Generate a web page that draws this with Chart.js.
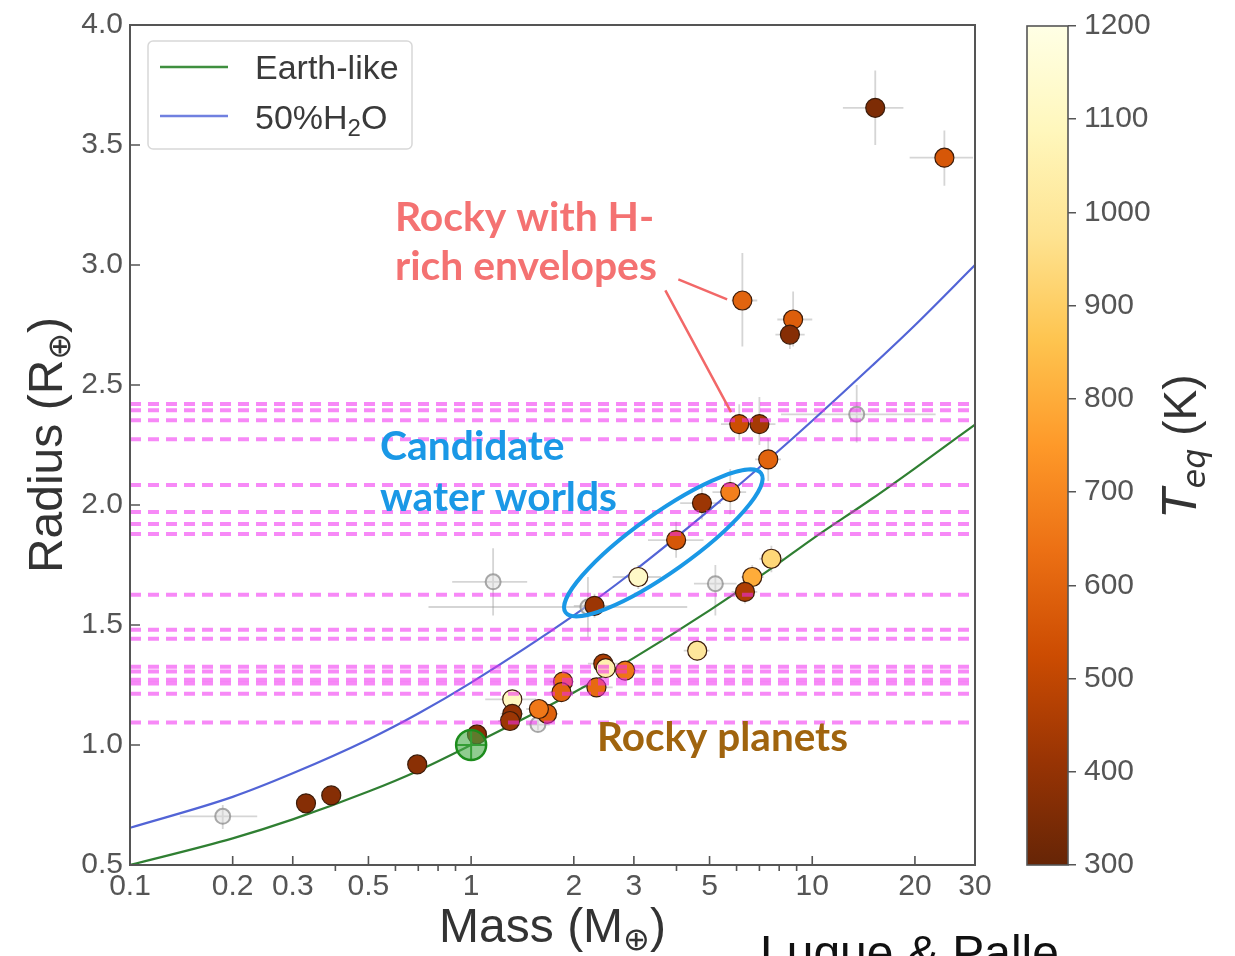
<!DOCTYPE html>
<html>
<head>
<meta charset="utf-8">
<script src="https://cdn.jsdelivr.net/npm/chart.js@4.4.1/dist/chart.umd.min.js"></script>
<style>
html, body { margin: 0; padding: 0; background: #fff; overflow: hidden; }
#wrap { position: relative; width: 1235px; height: 956px; }
#main { position: absolute; left: 0; top: 0; }
#cbar { position: absolute; left: 1000px; top: 0; }
</style>
</head>
<body>
<div id="wrap">
  <canvas id="main" width="1235" height="956"></canvas>
  <canvas id="cbar" width="235" height="956"></canvas>
</div>
<script>
// planets with a measured equilibrium temperature (coloured points)
const planetMass   = [15.3, 24.4, 6.24, 8.79, 8.6, 6.11, 7.0, 7.43, 5.75, 4.75, 3.99, 3.09, 2.30, 7.59, 6.67, 6.35, 4.60, 2.44, 2.48, 2.83, 2.33, 1.86, 1.84, 1.67, 1.58, 1.32, 1.32, 1.30, 1.04, 0.695, 0.389, 0.328];
const planetRadius = [3.655, 3.447, 2.852, 2.773, 2.71, 2.337, 2.337, 2.19, 2.054, 2.008, 1.854, 1.70, 1.58, 1.776, 1.70, 1.638, 1.393, 1.339, 1.32, 1.31, 1.24, 1.264, 1.22, 1.13, 1.15, 1.19, 1.13, 1.10, 1.044, 0.919, 0.79, 0.757];
const planetTeq    = [350, 560, 600, 580, 370, 530, 440, 600, 680, 420, 560, 1120, 420, 930, 800, 460, 1000, 450, 1050, 650, 620, 640, 600, 590, 660, 1100, 400, 420, 380, 380, 370, 370];
const massLo = [12.3, 19.3, 5.8, 7.9, 7.8, 5.4, 6.3, 6.8, 5.1, 4.1, 3.3, 2.6, 2.0, 7.0, 6.2, 5.8, 4.2, 2.2, 2.3, 2.6, 2.1, 1.7, 1.7, 1.55, 1.45, 1.1, 1.22, 1.2, 0.98, 0.66, 0.37, 0.31];
const massHi = [18.5, 29.6, 6.9, 10.0, 9.5, 6.9, 7.8, 8.1, 6.4, 5.4, 4.8, 3.6, 2.6, 8.2, 7.2, 6.9, 5.0, 2.7, 2.7, 3.1, 2.6, 2.0, 2.0, 1.8, 1.7, 1.55, 1.42, 1.4, 1.1, 0.73, 0.41, 0.345];
const radLo  = [3.50, 3.33, 2.66, 2.66, 2.65, 2.27, 2.25, 2.10, 1.96, 1.94, 1.78, 1.65, 1.53, 1.72, 1.65, 1.59, 1.35, 1.30, 1.29, 1.28, 1.21, 1.24, 1.19, 1.11, 1.13, 1.17, 1.11, 1.08, 1.03, 0.91, 0.78, 0.75];
const radHi  = [3.81, 3.56, 3.05, 2.89, 2.77, 2.42, 2.45, 2.28, 2.15, 2.08, 1.93, 1.75, 1.63, 1.83, 1.75, 1.69, 1.44, 1.38, 1.35, 1.34, 1.27, 1.29, 1.25, 1.15, 1.17, 1.21, 1.15, 1.12, 1.06, 0.93, 0.80, 0.765];

// planets without a temperature (grey open points)
const greyMass   = [0.187, 1.16, 2.2, 5.2, 13.5, 1.57];
const greyRadius = [0.703, 1.68, 1.575, 1.672, 2.378, 1.085];
const greyMassLo = [0.14, 0.88, 0.75, 4.5, 8.1, 1.45];
const greyMassHi = [0.236, 1.46, 4.3, 6.0, 23, 1.7];
const greyRadLo  = [0.65, 1.54, 1.45, 1.54, 2.26, 1.06];
const greyRadHi  = [0.75, 1.82, 1.70, 1.75, 2.50, 1.11];

// composition curves
const earthMass   = [0.1, 0.2, 0.3, 0.5, 0.7, 1, 2, 3, 5, 7.7, 10, 15, 20, 30];
const earthRadius = [0.50, 0.611, 0.690, 0.806, 0.893, 1.0, 1.219, 1.363, 1.561, 1.742, 1.858, 2.027, 2.153, 2.335];
const waterMass   = [0.1, 0.2, 0.3, 0.5, 0.7, 1, 2, 3, 5, 8, 10, 15, 20, 30];
const waterRadius = [0.655, 0.784, 0.882, 1.023, 1.131, 1.26, 1.54, 1.725, 1.98, 2.228, 2.351, 2.581, 2.749, 3.0];

// magenta dashed horizontal lines (radius values)
const dashRadius = [2.421, 2.395, 2.353, 2.274, 2.083, 1.971, 1.921, 1.879, 1.626, 1.480, 1.443, 1.326, 1.306, 1.272, 1.256, 1.214, 1.094];

const xTickVals  = [0.1, 0.2, 0.3, 0.5, 1, 2, 3, 5, 10, 20, 30];
const xMinorVals = [0.4, 0.6, 0.7, 0.8, 0.9, 4, 6, 7, 8, 9];
const yTickVals  = [0.5, 1.0, 1.5, 2.0, 2.5, 3.0, 3.5, 4.0];
const cbarTicks  = [300, 400, 500, 600, 700, 800, 900, 1000, 1100, 1200];
const teqMin = 300, teqMax = 1200;

// YlOrBr reversed
const cmapStops = ['#662506', '#993404', '#cc4c02', '#ec7014', '#fe9929', '#fec44f', '#fee391', '#fff7bc', '#ffffe5'];

function hexToRgb(h) {
  return [parseInt(h.slice(1, 3), 16), parseInt(h.slice(3, 5), 16), parseInt(h.slice(5, 7), 16)];
}
function teqColor(t) {
  let f = (t - teqMin) / (teqMax - teqMin);
  f = Math.max(0, Math.min(1, f)) * (cmapStops.length - 1);
  const i = Math.min(Math.floor(f), cmapStops.length - 2);
  const a = hexToRgb(cmapStops[i]), b = hexToRgb(cmapStops[i + 1]);
  const u = f - i;
  const c = a.map((v, k) => Math.round(v + (b[k] - v) * u));
  return `rgb(${c[0]},${c[1]},${c[2]})`;
}

const SANS = '"Liberation Sans", "DejaVu Sans", Arial, sans-serif';
const TICK_FONT = { family: SANS, size: 30 };

// draw a run of text pieces with different fonts / baseline shifts
function drawRuns(ctx, runs, x, y, align) {
  let total = 0;
  runs.forEach(r => { ctx.font = r.font; r.w = ctx.measureText(r.t).width; total += r.w; });
  let cx = align === 'center' ? x - total / 2 : x;
  ctx.textAlign = 'left';
  ctx.textBaseline = 'alphabetic';
  runs.forEach(r => { ctx.font = r.font; ctx.fillText(r.t, cx, y + (r.dy || 0)); cx += r.w; });
}

const errorBars = {
  id: 'errorBars',
  beforeDatasetsDraw(chart) {
    const { ctx, chartArea: a, scales: { x, y } } = chart;
    ctx.save();
    ctx.beginPath(); ctx.rect(a.left, a.top, a.width, a.height); ctx.clip();
    ctx.strokeStyle = 'rgba(150,150,150,0.4)';
    ctx.lineWidth = 1.8;
    const bar = (m, r, mlo, mhi, rlo, rhi) => {
      const px = x.getPixelForValue(m), py = y.getPixelForValue(r);
      ctx.beginPath();
      ctx.moveTo(x.getPixelForValue(mlo), py); ctx.lineTo(x.getPixelForValue(mhi), py);
      ctx.moveTo(px, y.getPixelForValue(rlo)); ctx.lineTo(px, y.getPixelForValue(rhi));
      ctx.stroke();
    };
    planetMass.forEach((m, i) => bar(m, planetRadius[i], massLo[i], massHi[i], radLo[i], radHi[i]));
    greyMass.forEach((m, i) => bar(m, greyRadius[i], greyMassLo[i], greyMassHi[i], greyRadLo[i], greyRadHi[i]));
    ctx.restore();
  }
};

const decorations = {
  id: 'decorations',
  afterDraw(chart) {
    const { ctx, chartArea: a, scales: { x, y } } = chart;
    ctx.save();

    // frame
    ctx.strokeStyle = '#555'; ctx.lineWidth = 2;
    ctx.strokeRect(a.left, a.top, a.width, a.height);

    // tick marks (major inward, minor outward)
    ctx.lineWidth = 1.6;
    ctx.beginPath();
    xTickVals.forEach(v => { const px = x.getPixelForValue(v); ctx.moveTo(px, a.bottom); ctx.lineTo(px, a.bottom - 9); });
    xMinorVals.forEach(v => { const px = x.getPixelForValue(v); ctx.moveTo(px, a.bottom); ctx.lineTo(px, a.bottom + 6); });
    yTickVals.forEach(v => { const py = y.getPixelForValue(v); ctx.moveTo(a.left, py); ctx.lineTo(a.left + 10, py); });
    ctx.stroke();

    // legend
    const lx = a.left + 18, ly = a.top + 16;
    ctx.fillStyle = 'rgba(255,255,255,0.9)';
    ctx.strokeStyle = '#d8d8d8'; ctx.lineWidth = 1.5;
    ctx.beginPath(); ctx.roundRect(lx, ly, 264, 108, 5); ctx.fill(); ctx.stroke();
    ctx.lineWidth = 2.4;
    ctx.strokeStyle = '#3f8f3f';
    ctx.beginPath(); ctx.moveTo(lx + 12, ly + 26); ctx.lineTo(lx + 80, ly + 26); ctx.stroke();
    ctx.strokeStyle = '#7080e0';
    ctx.beginPath(); ctx.moveTo(lx + 12, ly + 75); ctx.lineTo(lx + 80, ly + 75); ctx.stroke();
    ctx.fillStyle = '#3a3a3a';
    drawRuns(ctx, [{ t: 'Earth-like', font: `34px ${SANS}` }], lx + 107, ly + 38, 'left');
    drawRuns(ctx, [{ t: '50%H', font: `34px ${SANS}` }, { t: '2', font: `24px ${SANS}`, dy: 7 }, { t: 'O', font: `34px ${SANS}` }], lx + 107, ly + 88, 'left');

    // annotation text
    const anno = (lines, m, r, lineGap, width, color) => {
      ctx.fillStyle = color;
      let size = 40;
      ctx.font = `bold ${size}px Lato, "Open Sans", sans-serif`;
      const longest = lines.reduce((w, l) => Math.max(w, ctx.measureText(l).width), 0);
      size = size * width / longest;
      ctx.font = `bold ${size}px Lato, "Open Sans", sans-serif`;
      ctx.textAlign = 'left'; ctx.textBaseline = 'alphabetic';
      const px = x.getPixelForValue(m), py = y.getPixelForValue(r);
      lines.forEach((l, i) => ctx.fillText(l, px, py + i * lineGap));
    };
    anno(['Rocky with H-', 'rich envelopes'], 0.598, 3.143, 49, 262, '#f47272');
    anno(['Candidate', 'water worlds'], 0.541, 2.187, 51, 237, '#1a98e6');
    anno(['Rocky planets'], 2.34, 0.973, 0, 251, '#a0640e');

    // pointer lines to the H-rich planets
    ctx.strokeStyle = '#f26868'; ctx.lineWidth = 2.5;
    ctx.beginPath();
    ctx.moveTo(x.getPixelForValue(4.05), y.getPixelForValue(2.94)); ctx.lineTo(x.getPixelForValue(5.63), y.getPixelForValue(2.857));
    ctx.moveTo(x.getPixelForValue(3.71), y.getPixelForValue(2.894)); ctx.lineTo(x.getPixelForValue(5.78), y.getPixelForValue(2.387));
    ctx.stroke();

    // ellipse around candidate water worlds
    ctx.strokeStyle = '#1a98e6'; ctx.lineWidth = 4;
    ctx.beginPath();
    ctx.ellipse(x.getPixelForValue(3.66), y.getPixelForValue(1.842), 120, 29, -35.4 * Math.PI / 180, 0, 2 * Math.PI);
    ctx.stroke();

    // axis titles
    ctx.fillStyle = '#333';
    drawRuns(ctx, [{ t: 'Mass (M', font: `48px ${SANS}` }, { t: '⊕', font: `32px ${SANS}`, dy: 8 }, { t: ')', font: `48px ${SANS}` }],
      (a.left + a.right) / 2, a.bottom + 77, 'center');
    ctx.save();
    ctx.translate(a.left - 68, (a.top + a.bottom) / 2);
    ctx.rotate(-Math.PI / 2);
    drawRuns(ctx, [{ t: 'Radius (R', font: `48px ${SANS}` }, { t: '⊕', font: `32px ${SANS}`, dy: 8 }, { t: ')', font: `48px ${SANS}` }], 0, 0, 'center');
    ctx.restore();

    // credit, cut off by the bottom edge
    ctx.fillStyle = '#111';
    drawRuns(ctx, [{ t: 'Luque & Palle', font: `48px ${SANS}` }], 760, 969, 'left');
    ctx.restore();
  }
};

const dashSets = dashRadius.map(r => ({
  type: 'line',
  data: [{ x: 0.1, y: r }, { x: 30, y: r }],
  borderColor: 'rgba(240,40,240,0.55)',
  borderWidth: 4,
  borderDash: [11, 7],
  pointRadius: 0,
  order: 0
}));

new Chart(document.getElementById('main'), {
  type: 'scatter',
  data: {
    datasets: [
      ...dashSets,
      {
        data: [{ x: 1, y: 1 }],
        pointRadius: 15, pointStyle: 'circle',
        backgroundColor: 'rgba(70,170,70,0.6)', borderColor: '#1c8c1c', borderWidth: 2.5,
        order: 1
      },
      {
        data: [{ x: 1, y: 1 }],
        pointRadius: 14, pointStyle: 'cross',
        borderColor: '#1c8c1c', borderWidth: 2,
        order: 1
      },
      {
        data: planetMass.map((m, i) => ({ x: m, y: planetRadius[i] })),
        pointRadius: 9.5,
        backgroundColor: planetTeq.map(teqColor),
        borderColor: '#3c1c0a', borderWidth: 1.2,
        order: 2
      },
      {
        data: greyMass.map((m, i) => ({ x: m, y: greyRadius[i] })),
        pointRadius: 7.5,
        backgroundColor: 'rgba(215,215,215,0.45)',
        borderColor: 'rgba(140,140,140,0.75)', borderWidth: 2,
        order: 3
      },
      {
        type: 'line',
        data: earthMass.map((m, i) => ({ x: m, y: earthRadius[i] })),
        borderColor: '#2f7f32', borderWidth: 2.2, pointRadius: 0,
        cubicInterpolationMode: 'monotone',
        order: 4
      },
      {
        type: 'line',
        data: waterMass.map((m, i) => ({ x: m, y: waterRadius[i] })),
        borderColor: '#5264d6', borderWidth: 2.2, pointRadius: 0,
        cubicInterpolationMode: 'monotone',
        order: 4
      }
    ]
  },
  options: {
    responsive: false,
    animation: false,
    events: [],
    layout: { padding: { top: 22, right: 260, left: 0, bottom: 0 } },
    plugins: { legend: { display: false }, tooltip: { enabled: false } },
    scales: {
      x: {
        type: 'logarithmic', min: 0.1, max: 30,
        grid: { display: false, drawTicks: false },
        border: { display: false },
        afterBuildTicks: s => { s.ticks = xTickVals.map(v => ({ value: v })); },
        afterFit: s => { s.height = 91; },
        ticks: { font: TICK_FONT, color: '#555', padding: 4, maxRotation: 0, autoSkip: false, callback: v => String(v) }
      },
      y: {
        type: 'linear', min: 0.5, max: 4,
        grid: { display: false, drawTicks: false },
        border: { display: false },
        afterBuildTicks: s => { s.ticks = yTickVals.map(v => ({ value: v })); },
        afterFit: s => { s.width = 130; },
        ticks: { font: TICK_FONT, color: '#555', padding: 7, callback: v => v.toFixed(1) }
      }
    }
  },
  plugins: [errorBars, decorations]
});

const cbarTitle = {
  id: 'cbarTitle',
  afterDraw(chart) {
    const { ctx, chartArea: a } = chart;
    ctx.save();
    ctx.strokeStyle = '#555'; ctx.lineWidth = 1.6;
    ctx.strokeRect(a.left, a.top, a.width, a.height);
    ctx.fillStyle = '#333';
    ctx.translate(a.right + 128, (a.top + a.bottom) / 2);
    ctx.rotate(-Math.PI / 2);
    drawRuns(ctx, [
      { t: 'T', font: 'oblique 46px "DejaVu Sans", sans-serif' },
      { t: 'eq', font: 'oblique 32px "DejaVu Sans", sans-serif', dy: 9 },
      { t: ' (K)', font: `46px ${SANS}` }
    ], 0, 0, 'center');
    ctx.restore();
  }
};

new Chart(document.getElementById('cbar'), {
  type: 'bar',
  data: {
    labels: ['Teq'],
    datasets: [{
      data: [[teqMin, teqMax]],
      barPercentage: 1, categoryPercentage: 1, borderWidth: 0,
      backgroundColor: c => {
        const a = c.chart.chartArea;
        if (!a) return '#999';
        const g = c.chart.ctx.createLinearGradient(0, a.bottom, 0, a.top);
        cmapStops.forEach((s, i) => g.addColorStop(i / (cmapStops.length - 1), s));
        return g;
      }
    }]
  },
  options: {
    responsive: false,
    animation: false,
    events: [],
    layout: { padding: { top: 22, bottom: 91, left: 27, right: 0 } },
    plugins: { legend: { display: false }, tooltip: { enabled: false } },
    scales: {
      x: { display: false },
      y: {
        position: 'right', min: teqMin, max: teqMax,
        afterBuildTicks: s => { s.ticks = cbarTicks.map(v => ({ value: v })); },
        afterFit: s => { s.width = 167; },
        grid: { drawOnChartArea: false, tickLength: 8, color: '#555', lineWidth: 1.5 },
        border: { display: false },
        ticks: { font: TICK_FONT, color: '#555', padding: 8, callback: v => String(v) }
      }
    }
  },
  plugins: [cbarTitle]
});
</script>
</body>
</html>
